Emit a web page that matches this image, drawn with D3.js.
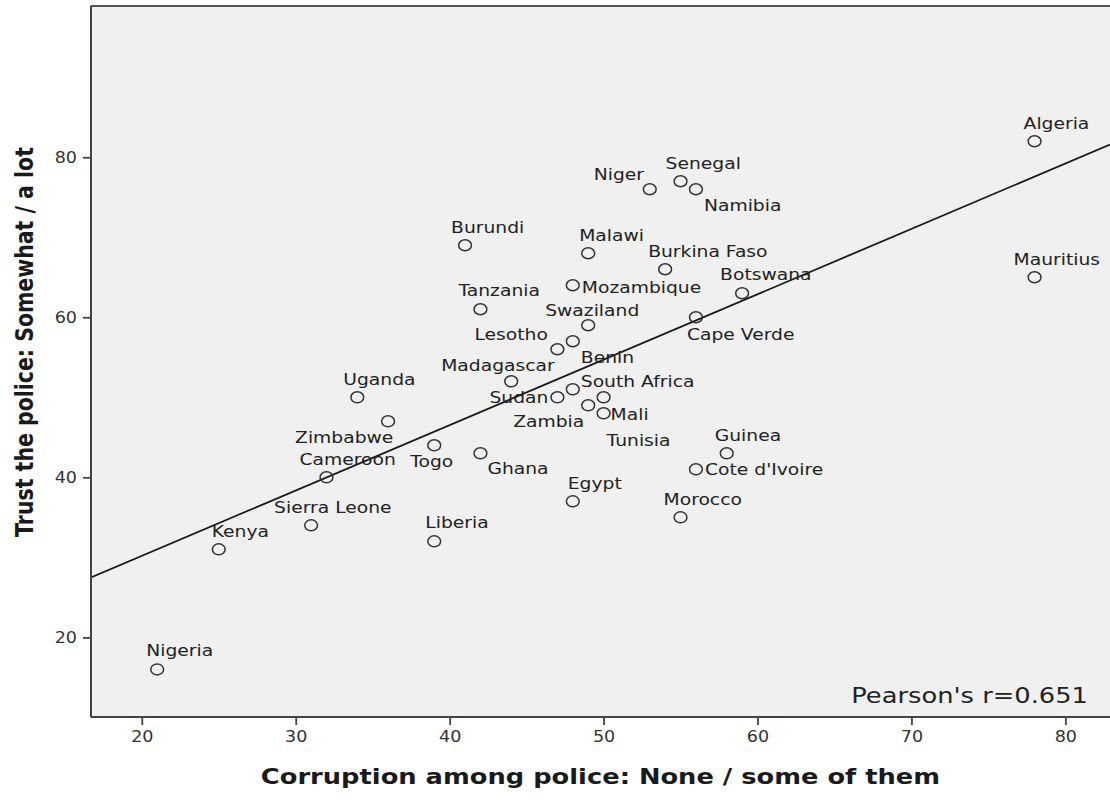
<!DOCTYPE html>
<html>
<head>
<meta charset="utf-8">
<script src="https://cdn.jsdelivr.net/npm/d3@7"></script>
<style>
  html, body { margin: 0; padding: 0; background: #ffffff; }
  svg { display: block; }
  text { font-family: "DejaVu Sans", Verdana, sans-serif; }
</style>
</head>
<body>
<svg id="chart" width="1110" height="807"></svg>
<script>
// Country survey results (percent of respondents)
const countries = [
  "Algeria", "Mauritius", "Niger", "Senegal", "Namibia", "Burundi", "Malawi",
  "Burkina Faso", "Mozambique", "Botswana", "Tanzania", "Cape Verde", "Swaziland",
  "Lesotho", "Benin", "Madagascar", "Uganda", "Zimbabwe", "Sudan", "South Africa",
  "Tunisia", "Zambia", "Mali", "Guinea", "Cote d'Ivoire", "Togo", "Cameroon",
  "Ghana", "Egypt", "Morocco", "Sierra Leone", "Kenya", "Liberia", "Nigeria"
];
// Corruption among police: None / some of them
const corruptionNone = [
  78, 78, 53, 55, 56, 41, 49,
  54, 48, 59, 42, 56, 49,
  47, 48, 44, 34, 36, 47, 48,
  50, 49, 50, 58, 56, 39, 32,
  42, 48, 55, 31, 25, 39, 21
];
// Trust the police: Somewhat / a lot
const trustPolice = [
  82, 65, 76, 77, 76, 69, 68,
  66, 64, 63, 61, 60, 59,
  56, 57, 52, 50, 47, 50, 51,
  50, 49, 48, 43, 41, 44, 40,
  43, 37, 35, 34, 31, 32, 16
];
const xTicks = [20, 30, 40, 50, 60, 70, 80];
const yTicks = [20, 40, 60, 80];
const pearsonR = 0.651;
const xTitle = "Corruption among police: None / some of them";
const yTitle = "Trust the police: Somewhat / a lot";

// Label placement relative to each marker (px): [dx of left edge, dy of baseline]
const labelOffsets = [
  [-11, -12], [-21, -12], [-56, -9], [-15, -12], [8, 22], [-14, -12], [-9, -12],
  [-17, -12], [9, 8], [-22, -13], [-22, -13], [-9, 23], [-43, -9],
  [-83, -9], [8, 22], [-70, -10], [-14, -12], [-93, 22], [-68, 6], [8, -2],
  [3, 49], [-75, 22], [7, 7], [-12, -12], [9, 6], [-24, 22], [-27, -12],
  [7, 21], [-5, -12], [-17, -12], [-37, -12], [-7, -12], [-9, -13], [-11, -13]
];

// the chart is drawn with a slightly widened type and marker aspect
const SX = 1.17;

const plot = { left: 91, right: 1112, top: 6, bottom: 717 };
const svg = d3.select("#chart");

const x = d3.scaleLinear().domain([16.7, 82.9]).range([plot.left, 1110]);
const y = d3.scaleLinear().domain([10.05, 98.9]).range([plot.bottom, plot.top]);

// plot background
svg.append("rect")
  .attr("x", plot.left).attr("y", plot.top)
  .attr("width", plot.right - plot.left).attr("height", plot.bottom - plot.top)
  .attr("fill", "#f0f0f0");

svg.append("clipPath").attr("id", "plotclip")
  .append("rect")
  .attr("x", plot.left).attr("y", plot.top)
  .attr("width", plot.right - plot.left).attr("height", plot.bottom - plot.top);

// least-squares fit line
const n = corruptionNone.length;
const mx = d3.mean(corruptionNone), my = d3.mean(trustPolice);
let sxy = 0, sxx = 0;
for (let i = 0; i < n; i++) {
  sxy += (corruptionNone[i] - mx) * (trustPolice[i] - my);
  sxx += (corruptionNone[i] - mx) ** 2;
}
const slope = sxy / sxx, intercept = my - slope * mx;
const [x0, x1] = x.domain();
svg.append("line")
  .attr("clip-path", "url(#plotclip)")
  .attr("x1", x(x0)).attr("y1", y(intercept + slope * x0))
  .attr("x2", x(x1)).attr("y2", y(intercept + slope * x1))
  .attr("stroke", "#1a1a1a").attr("stroke-width", 1.8);

// markers
const pts = countries.map((c, i) => ({ name: c, vx: corruptionNone[i], vy: trustPolice[i], off: labelOffsets[i] }));
svg.append("g").selectAll("ellipse").data(pts).join("ellipse")
  .attr("cx", d => x(d.vx)).attr("cy", d => y(d.vy))
  .attr("rx", 6.4).attr("ry", 5.5)
  .attr("fill", "none")
  .attr("stroke", "#333")
  .attr("stroke-width", 1.5);

// country labels
svg.append("g").selectAll("text").data(pts).join("text")
  .attr("transform", d => `translate(${x(d.vx) + d.off[0]},${y(d.vy) + d.off[1]}) scale(${SX},1)`)
  .attr("font-size", 16)
  .attr("fill", "#222")
  .text(d => d.name);

// frame: top border
svg.append("line")
  .attr("x1", plot.left).attr("x2", 1110).attr("y1", plot.top).attr("y2", plot.top)
  .attr("stroke", "#555").attr("stroke-width", 2);

// axes
const xAxis = d3.axisBottom(x).tickValues(xTicks).tickSize(8).tickPadding(6).tickFormat(d3.format("d"));
const yAxis = d3.axisLeft(y).tickValues(yTicks).tickSize(8).tickPadding(6).tickFormat(d3.format("d"));

const gx = svg.append("g").attr("transform", `translate(0,${plot.bottom})`).call(xAxis);
gx.select(".domain").attr("d", `M${plot.left},0H1112`).attr("stroke", "#444").attr("stroke-width", 2);
const gy = svg.append("g").attr("transform", `translate(${plot.left},0)`).call(yAxis);
gy.select(".domain").attr("d", `M0,${plot.top}V${plot.bottom}`).attr("stroke", "#444").attr("stroke-width", 2);

[gx, gy].forEach(g => {
  g.selectAll(".tick line").attr("stroke", "#444").attr("stroke-width", 1.8);
  g.selectAll(".tick text")
    .attr("font-family", "DejaVu Sans, sans-serif")
    .attr("font-size", 15)
    .attr("fill", "#333");
});
gy.selectAll(".tick text").attr("x", -14 / SX).attr("transform", `scale(${SX},1)`);
gx.selectAll(".tick text").attr("transform", `scale(${SX},1)`);

// Pearson correlation annotation
svg.append("text")
  .attr("transform", `translate(1088,703) scale(${SX},1)`)
  .attr("text-anchor", "end")
  .attr("font-size", 22)
  .attr("fill", "#222")
  .text(`Pearson's r=${pearsonR.toFixed(3)}`);

// axis titles
svg.append("text")
  .attr("transform", `translate(${(plot.left + 1110) / 2},784) scale(${SX},1)`)
  .attr("text-anchor", "middle")
  .attr("font-size", 22)
  .attr("font-weight", "bold")
  .attr("fill", "#1a1a1a")
  .text(xTitle);

svg.append("text")
  .attr("transform", `translate(33,342) scale(${SX},1) rotate(-90)`)
  .attr("text-anchor", "middle")
  .attr("font-size", 20.5)
  .attr("font-weight", "bold")
  .attr("fill", "#1a1a1a")
  .text(yTitle);
</script>
</body>
</html>
